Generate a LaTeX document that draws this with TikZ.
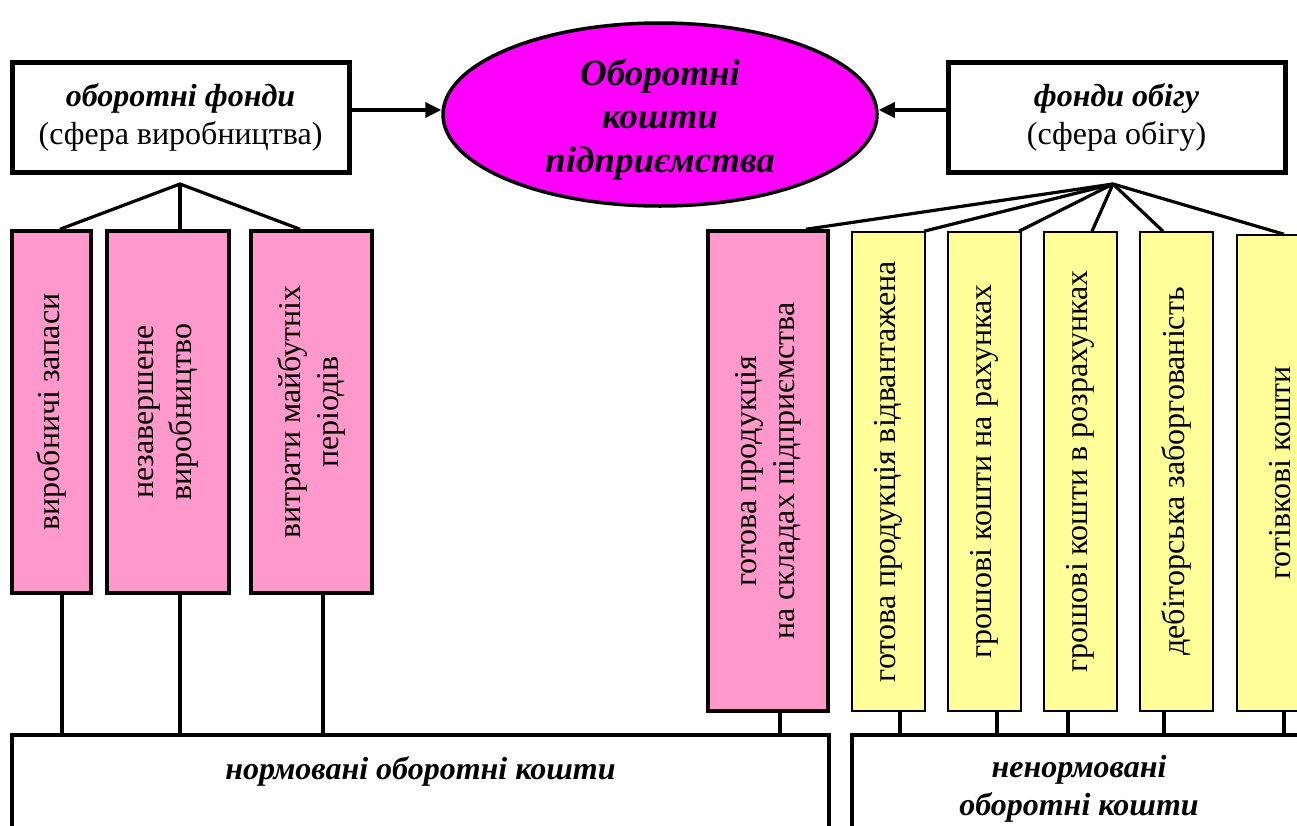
\documentclass[tikz,border=0pt]{standalone}
\usepackage{fontspec}
\setmainfont{Liberation Serif}
\usetikzlibrary{shapes.geometric,arrows.meta}
\definecolor{pinkbox}{HTML}{FF99CC}
\definecolor{yelbox}{HTML}{FFFF99}
\definecolor{magentfill}{HTML}{FF00FF}
\begin{document}
\begin{tikzpicture}[x=1pt,y=-1pt,
  txt/.style={font=\fontsize{32}{38}\selectfont, align=center},
  bi/.style={font=\fontsize{32}{38}\selectfont\bfseries\itshape, align=center},
  topbox/.style={txt, draw, line width=5pt, fill=white, minimum width=337pt, minimum height=110pt, inner sep=0pt},
  pinkv/.style={txt, draw, line width=3.5pt, fill=pinkbox, rotate=90, inner sep=0pt},
  yelv/.style={txt, draw, line width=1.5pt, fill=yelbox, rotate=90, minimum width=479pt, minimum height=73pt, inner sep=0pt},
  conn/.style={line width=3.2pt},
  arr/.style={line width=3.5pt, -{Triangle[length=16pt,width=15pt]}},
  botbox/.style={draw, line width=3.5pt, fill=white, inner sep=0pt, minimum height=165pt}]

\useasboundingbox (0,0) rectangle (1297,825);
\clip (0,0) rectangle (1297,825);

% top level
\node[topbox] (lt) at (180.5,117) {{\bfseries\itshape оборотні фонди}\\(сфера виробництва)};
\node[topbox] (rt) at (1116.5,117) {{\bfseries\itshape фонди обігу}\\(сфера обігу)};
\node[ellipse, draw, line width=3.5pt, fill=magentfill, minimum width=434pt, minimum height=183pt, inner sep=0pt] (ell) at (660,114.5) {};
\node[font=\fontsize{37}{43.5}\selectfont\bfseries\itshape, align=center, inner sep=0pt] (ellt) at (660,119.5)
      {Оборотні\\кошти\\підприємства};

\draw[arr] (lt.east |- 0,110) -- (ell.west |- 0,110);
\draw[arr] (rt.west |- 0,110) -- (ell.east |- 0,110);

% left pink boxes
\node[pinkv, minimum width=362pt, minimum height=79pt] (b1) at (51.5,412) {виробничі запаси};
\node[pinkv, minimum width=362pt, minimum height=122pt] (b2) at (168,412) {незавершене\\виробництво};
\node[pinkv, minimum width=362pt, minimum height=121pt] (b3) at (311.5,412) {витрати майбутніх\\періодів};

% right boxes
\node[pinkv, minimum width=480pt, minimum height=120pt] (b4) at (768,471) {готова продукція\\на складах підприємства};
\node[yelv] (y1) at (888.5,471.5) {готова продукція відвантажена};
\node[yelv] (y2) at (984.5,471.5) {грошові кошти на рахунках};
\node[yelv] (y3) at (1080.5,471.5) {грошові кошти в розрахунках};
\node[yelv] (y4) at (1176.5,471.5) {дебіторська заборгованість};
\node[yelv, minimum width=476pt, minimum height=86pt] (y5) at (1280,473) {готівкові кошти};

% bottom boxes
\node[botbox, minimum width=817pt] (norm) at (420.5,817.5) {};
\node[bi] (normt) at (420.5,771) {нормовані оборотні кошти};
\node[botbox, minimum width=454pt] (nenorm) at (1079,817.5) {};
\node[bi] (nenormt) at (1079,789) {ненормовані\\оборотні кошти};

% apex points
\coordinate (apL) at (180,184);
\coordinate (apR) at (1113,184);

\draw[conn] (b1.east -| 60,0) -- (apL) -- (b3.east -| 300,0);
\draw[conn] (apL) -- (b2.east -| 180,0);

\draw[conn] (apR) -- (b4.east -| 806,0);
\draw[conn] (apR) -- (y1.east -| 924,0);
\draw[conn] (apR) -- (y2.east -| 1019,0);
\draw[conn] (apR) -- (y3.east -| 1092,0);
\draw[conn] (apR) -- (y4.east -| 1163,0);
\draw[conn] (apR) -- (y5.east -| 1284,0);

\draw[conn] (b1.west -| 62,0) -- (norm.north -| 62,0);
\draw[conn] (b2.west -| 180,0) -- (norm.north -| 180,0);
\draw[conn] (b3.west -| 323,0) -- (norm.north -| 323,0);
\draw[conn] (b4.west -| 780,0) -- (norm.north -| 780,0);
\draw[conn] (y1.west -| 900,0) -- (nenorm.north -| 900,0);
\draw[conn] (y2.west -| 997,0) -- (nenorm.north -| 997,0);
\draw[conn] (y3.west -| 1068,0) -- (nenorm.north -| 1068,0);
\draw[conn] (y4.west -| 1164,0) -- (nenorm.north -| 1164,0);
\draw[conn] (y5.west -| 1284,0) -- (nenorm.north -| 1284,0);
\end{tikzpicture}
\end{document}
